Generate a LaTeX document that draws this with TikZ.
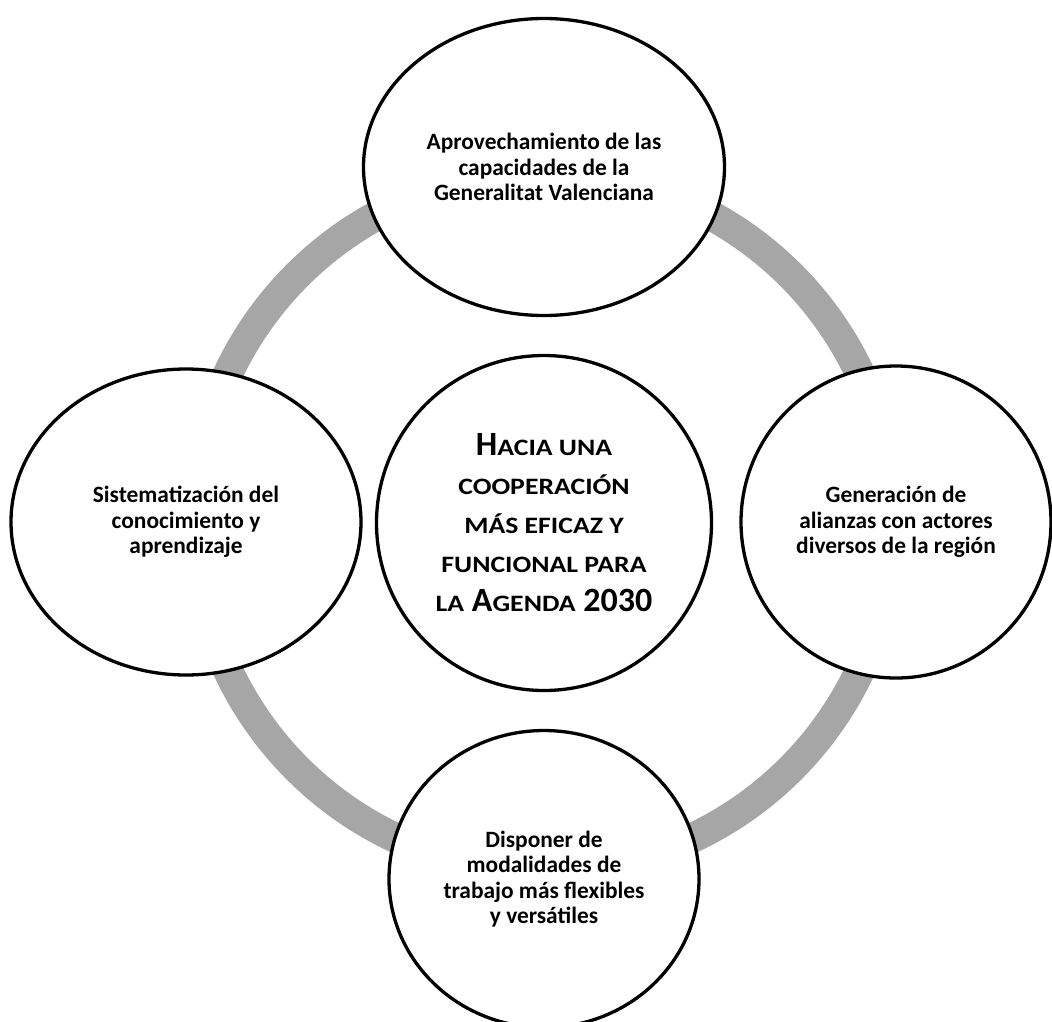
\documentclass[tikz,border=0pt]{standalone}
\usepackage{fontspec}
\setmainfont{Carlito}
\usetikzlibrary{shapes.geometric}
\definecolor{ringgray}{HTML}{A6A6A6}
\newcommand\smcp[1]{{\fontsize{23.5}{39}\selectfont\addfontfeatures{FakeStretch=1.18}#1}}
\begin{document}
\begin{tikzpicture}[x=1pt,y=-1pt,
  bubble/.style={ellipse, draw=black, line width=3.3pt, fill=white, inner sep=0pt,
    align=center, font=\fontsize{23.4}{25.3}\selectfont\bfseries},
  hub/.style={bubble, font=\fontsize{34}{39}\selectfont\bfseries},
  ring/.style={draw=ringgray, line width=30pt}]
\useasboundingbox (0,0) rectangle (1052,1021);
\draw[ring] (544,522) circle[radius=349];
\node[bubble, minimum width=361pt, minimum height=297pt] (top) at (544,167)
  {Aprovechamiento de las\\capacidades de la\\Generalitat Valenciana};
\node[bubble, minimum width=350pt, minimum height=306pt] (left) at (186,522)
  {Sistematización del\\conocimiento y\\aprendizaje};
\node[bubble, minimum width=310pt, minimum height=312pt] (right) at (896,522)
  {Generación de\\alianzas con actores\\diversos de la región};
\node[bubble, minimum width=310pt, minimum height=297pt] (bottom) at (544,879)
  {Disponer de\\modalidades de\\trabajo más flexibles\\y versátiles};
\node[hub, minimum width=335pt, minimum height=335pt] (center) at (544,523)
  {H\smcp{ACIA UNA}\\\smcp{COOPERACIÓN}\\\smcp{MÁS EFICAZ Y}\\\smcp{FUNCIONAL PARA}\\\smcp{LA} A\smcp{GENDA} 2030};
\end{tikzpicture}
\end{document}
